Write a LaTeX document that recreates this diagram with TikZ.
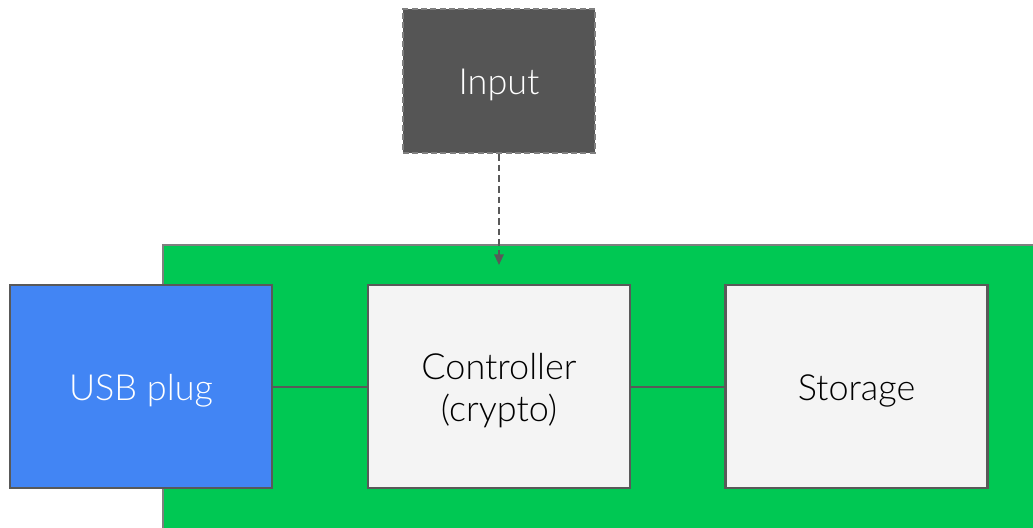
\documentclass[tikz,border=0pt]{standalone}
\usepackage{fontspec}
\setmainfont{Lato}[UprightFont=* Light]
\usetikzlibrary{arrows.meta}
\definecolor{boardgreen}{HTML}{00C853}
\definecolor{plugblue}{HTML}{4285F4}
\definecolor{boxgray}{HTML}{F4F4F4}
\definecolor{inputgray}{HTML}{555555}
\definecolor{edgegray}{HTML}{595959}
\definecolor{boardedge}{HTML}{7F7F7F}
\begin{document}
\begin{tikzpicture}[x=0.75pt,y=-0.75pt,
  block/.style={draw=edgegray,line width=1.8pt,minimum width=262*0.75pt,minimum height=203*0.75pt,
    inner sep=0pt},
  caption/.style={inner sep=0pt,font=\fontsize{27}{32}\selectfont,align=center,yshift=-3pt},
  wire/.style={draw=edgegray,line width=1.5pt}]
\useasboundingbox (0,0) rectangle (1033,528);
% board
\fill[boardgreen] (163,245) rectangle (1040,535);
\draw[boardedge,line width=2.2pt] (163,535) -- (163,245) -- (1040,245);
% input
\node[block,fill=inputgray,draw=boardedge,dash pattern=on 4.5pt off 2.5pt,line width=1.3pt,
  minimum width=192*0.75pt,minimum height=144*0.75pt] (in) at (499,81) {};
\node[caption,text=white] (inlbl) at (in.center) {Input};
% blocks
\node[block,fill=plugblue] (usb) at (141,386.5) {};
\node[block,fill=boxgray] (ctl) at (499,386.5) {};
\node[block,fill=boxgray] (sto) at (856.5,386.5) {};
\node[caption,text=white] (usblbl) at (usb.center) {USB plug};
\node[caption] (ctllbl) at (ctl.center) {Controller\\(crypto)};
\node[caption] (stolbl) at (sto.center) {Storage};
\coordinate (tip) at (499,265);
\draw[wire] (usb) -- (ctl);
\draw[wire] (ctl) -- (sto);
\draw[edgegray,line width=1.5pt,dash pattern=on 5pt off 3pt,-{Triangle[length=8pt,width=7pt]}] (in.south) -- (tip);
\end{tikzpicture}
\end{document}
